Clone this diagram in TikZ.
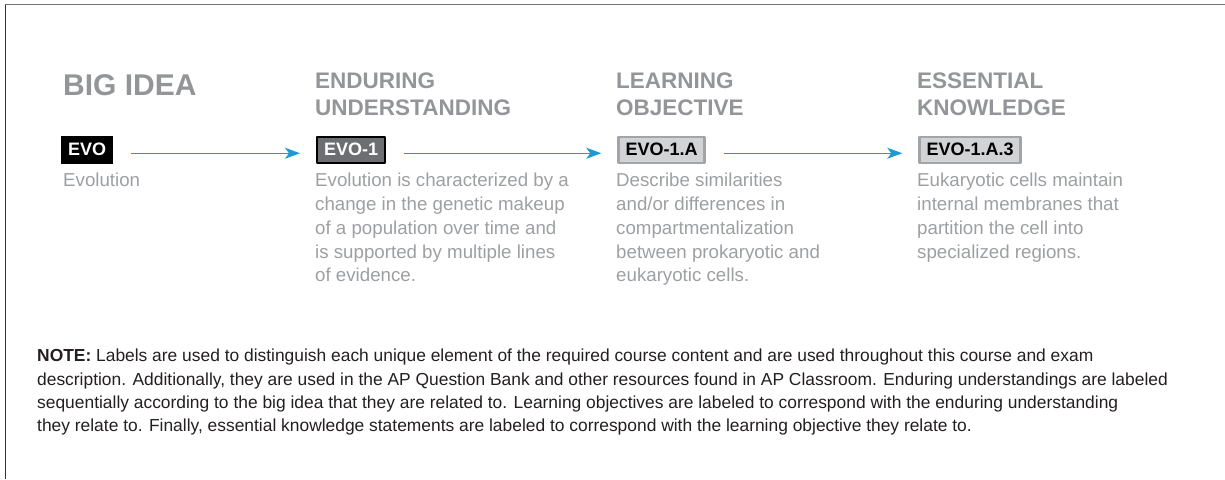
\documentclass[tikz,border=0pt]{standalone}
\usepackage{fontspec}
\setmainfont{Liberation Sans}
\usetikzlibrary{arrows.meta}
\definecolor{headgray}{HTML}{939598}
\definecolor{descgray}{HTML}{9D9FA2}
\definecolor{evoblue}{HTML}{1C9AD6}
\definecolor{darkfill}{HTML}{6D6E71}
\definecolor{lightfill}{HTML}{D1D3D4}
\definecolor{lightline}{HTML}{A2A4A7}
\definecolor{notetext}{HTML}{231F20}
\tikzset{
 head/.style={anchor=base west, inner sep=0pt, text=headgray, align=left,
   font=\bfseries\fontsize{22.5}{27.4}\selectfont},
 desc/.style={anchor=base west, inner sep=0pt, text=descgray, align=left,
   font=\fontsize{18.7}{23.8}\selectfont},
 tag/.style={anchor=west, inner xsep=7pt, inner ysep=0pt, minimum height=28.5pt,
   font=\bfseries\fontsize{18}{20}\selectfont},
 conn/.style={->, draw=evoblue, line width=1.3pt, shorten <=18pt, shorten >=16pt}
}
\begin{document}
\begin{tikzpicture}[x=1pt, y=-1pt, >={Stealth[length=15pt,width=11pt,inset=4pt]}, line join=round]
 \useasboundingbox (0,0) rectangle (1225,479);
 % frame
 \draw[line width=1.5pt, draw=black!55] (4.5,4.5)--(1225,4.5);
 \draw[line width=1.5pt, draw=black!80] (5.5,4.5)--(5.5,479);
 % titles (base = last line)
 \node[head, font=\bfseries\fontsize{30}{30}\selectfont] (bigidea) at (63,95) {BIG IDEA};
 \node[head] (enduring) at (315,115.7) {ENDURING\\UNDERSTANDING};
 \node[head] (learning) at (616,115.7) {LEARNING\\OBJECTIVE};
 \node[head] (essential) at (917,115.7) {ESSENTIAL\\KNOWLEDGE};
 % labels
 \node[tag, fill=black, text=white] (evo) at (61,149.75) {EVO};
 \node[tag, fill=darkfill, text=white, draw=black, line width=2pt, minimum height=26.5pt] (evoone) at (316,149.75) {EVO-1};
 \node[tag, fill=lightfill, text=black, draw=lightline, line width=2.5pt, minimum height=26pt] (evoa) at (617.25,149.75) {EVO-1.A};
 \node[tag, fill=lightfill, text=black, draw=lightline, line width=2.5pt, minimum height=26pt] (evoak) at (918.25,149.75) {EVO-1.A.3};
 \foreach \a/\b in {evo/evoone, evoone/evoa, evoa/evoak}
 \draw[conn] ([yshift=-3.5pt]\a.east)--([yshift=-3.5pt]\b.west);
 % texts
 \node[desc] (evotext) at (63,186.7) {Evolution};
 \node[desc] (evoonetext) at (315,281.9) {Evolution is characterized by a\\change in the genetic makeup\\of a population over time and\\is supported by multiple lines\\of evidence.};
 \node[desc] (evoatext) at (616,281.9) {Describe similarities\\and/or differences in\\compartmentalization\\between prokaryotic and\\eukaryotic cells.};
 \node[desc] (evoaktext) at (917,258.1) {Eukaryotic cells maintain\\internal membranes that\\partition the cell into\\specialized regions.};
 \node[anchor=base west, inner sep=0pt, text=notetext, align=left,
   font=\fontsize{17.4}{23.4}\selectfont] (note) at (37,431.9)
   {\textbf{NOTE:} Labels are used to distinguish each unique element of the required course content and are used throughout this course and exam\\
    description. Additionally, they are used in the AP Question Bank and other resources found in AP Classroom. Enduring understandings are labeled\\
    sequentially according to the big idea that they are related to. Learning objectives are labeled to correspond with the enduring understanding\\
    they relate to. Finally, essential knowledge statements are labeled to correspond with the learning objective they relate to.};
\end{tikzpicture}
\end{document}
